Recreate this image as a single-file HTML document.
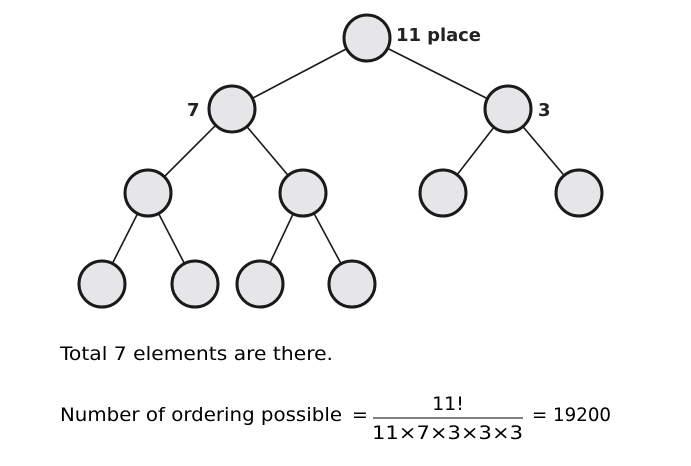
<!DOCTYPE html>
<html><head><style>
html,body{margin:0;padding:0;background:#fff;width:691px;height:466px;overflow:hidden}
svg{display:block}
</style></head><body>
<svg width="691" height="466" xmlns="http://www.w3.org/2000/svg">
<g stroke="#1a1a1a" stroke-width="1.6">
<line x1="367" y1="38" x2="232" y2="109"/><line x1="367" y1="38" x2="508" y2="109"/>
<line x1="232" y1="109" x2="148" y2="193"/><line x1="232" y1="109" x2="303" y2="193"/>
<line x1="508" y1="109" x2="443" y2="193"/><line x1="508" y1="109" x2="579" y2="193"/>
<line x1="148" y1="193" x2="102" y2="284"/><line x1="148" y1="193" x2="195" y2="284"/>
<line x1="303" y1="193" x2="260" y2="284"/><line x1="303" y1="193" x2="352" y2="284"/>
</g>
<g fill="#e6e6e8" stroke="#1a1a1a" stroke-width="3">
<circle cx="367" cy="38" r="23"/><circle cx="232" cy="109" r="23"/><circle cx="508" cy="109" r="23"/>
<circle cx="148" cy="193" r="23"/><circle cx="303" cy="193" r="23"/><circle cx="443" cy="193" r="23"/><circle cx="579" cy="193" r="23"/>
<circle cx="102" cy="284" r="23"/><circle cx="195" cy="284" r="23"/><circle cx="260" cy="284" r="23"/><circle cx="352" cy="284" r="23"/>
</g>
<g font-family="DejaVu Sans, Verdana, sans-serif" font-weight="bold" font-size="18" fill="#222">
<text x="396" y="41" textLength="85">11 place</text>
<text x="187" y="116">7</text>
<text x="538" y="116">3</text>
</g>
<g font-family="DejaVu Sans, Verdana, sans-serif" font-size="19" fill="#000">
<text x="60" y="360" textLength="273" lengthAdjust="spacingAndGlyphs">Total 7 elements are there.</text>
<text x="60" y="421" textLength="282" lengthAdjust="spacingAndGlyphs">Number of ordering possible</text>
<text x="352" y="421">=</text>
<text x="448" y="410" text-anchor="middle">11!</text>
<text x="372" y="439" textLength="151" lengthAdjust="spacingAndGlyphs">11×7×3×3×3</text>
<text x="532" y="421" textLength="79" lengthAdjust="spacingAndGlyphs">= 19200</text>
</g>
<line x1="373" y1="418" x2="523" y2="418" stroke="#000" stroke-width="1"/>
</svg>
</body></html>
